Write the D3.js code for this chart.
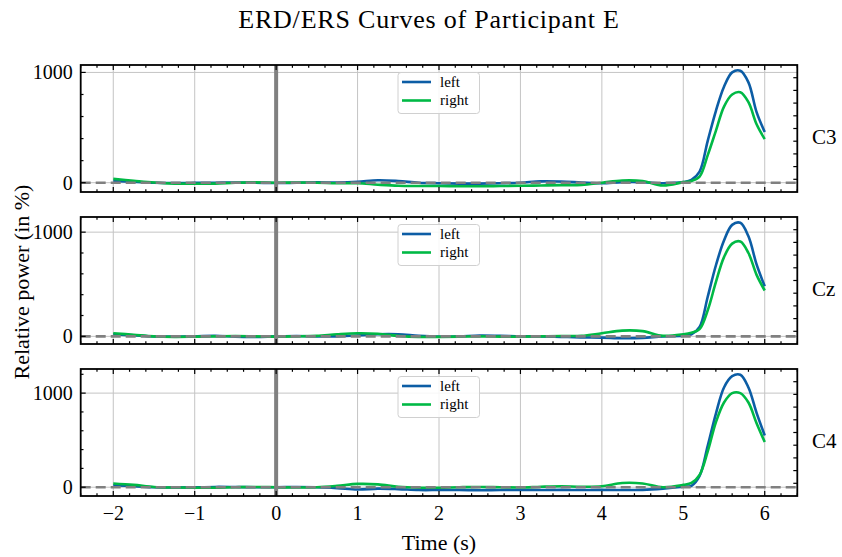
<!DOCTYPE html>
<html>
<head>
<meta charset="utf-8">
<script src="https://cdn.jsdelivr.net/npm/d3@7"></script>
<style>
  body { margin: 0; background: #fff; }
  svg text { font-family: "Liberation Serif", "Times New Roman", serif; fill: #000; }
</style>
</head>
<body>
<svg id="chart" width="842" height="557"></svg>
<script>
// time axis (s)
var times = [-2, -1.75, -1.5, -1.25, -1, -0.75, -0.5, -0.25, 0, 0.25, 0.5, 0.75,
  1, 1.25, 1.5, 1.75, 2, 2.25, 2.5, 2.75, 3, 3.25, 3.5, 3.75, 4, 4.25, 4.5, 4.75,
  5, 5.1, 5.2, 5.3, 5.4, 5.5, 5.6, 5.7, 5.8, 5.9, 6];

// relative power (%) per channel
var c3Left = [15, 8, 0, -3, -2, 0, 2, 0, -3, 0, 3, 2,
  8, 22, 15, 0, -5, -8, -8, -5, 0, 12, 10, 2, -5, 5, 5, -5,
  5, 25, 100, 380, 650, 870, 1000, 1015, 910, 640, 460];
var c3Right = [35, 18, 2, -8, -10, -8, 0, 3, 0, 2, 0, -5,
  -5, -18, -28, -30, -30, -32, -32, -30, -28, -25, -22, -20, 0, 20, 15, -25,
  5, 15, 55, 250, 470, 690, 800, 820, 730, 530, 395];

var czLeft = [20, 10, 0, -3, 0, 5, -3, -5, 0, 3, 0, 0,
  8, 20, 20, 5, -3, 0, 8, 5, 0, 0, -5, -10, -12, -18, -15, 0,
  5, 20, 90, 380, 680, 920, 1070, 1090, 960, 690, 480];
var czRight = [30, 15, 0, -5, -3, 0, 3, 0, -3, 0, 5, 20,
  30, 25, 5, -5, -5, -3, 0, -3, -3, 0, 3, 5, 30, 55, 50, 5,
  20, 35, 70, 250, 520, 760, 890, 910, 800, 590, 440];

var c4Left = [20, 12, 0, -3, -2, 3, 2, 0, 0, 2, 0, -10,
  -25, -15, -20, -30, -30, -30, -32, -30, -30, -30, -28, -30, -28, -30, -28, -15,
  5, 15, 120, 440, 780, 1060, 1180, 1195, 1060, 790, 550];
var c4Right = [40, 25, 3, -3, -5, -5, 0, 3, 0, -3, 0, 15,
  35, 30, 5, -5, -5, 0, 3, 0, -3, 5, 10, 5, 10, 45, 40, 0,
  25, 45, 130, 380, 690, 900, 1000, 1000, 900, 680, 480];

var channels = ['C3', 'Cz', 'C4'];
var leftSeries = [c3Left, czLeft, c4Left];
var rightSeries = [c3Right, czRight, c4Right];
var seriesNames = ['left', 'right'];
var seriesColors = ['#0C5DA5', '#00B945'];

var xMajor = [-2, -1, 0, 1, 2, 3, 4, 5, 6];
var yMajor = [0, 1000];

var svg = d3.select('#chart');

var left = 80.7, right = 797.3;
var panelTop = [65, 217, 369];
var panelH = 127;

var x = d3.scaleLinear().domain([-2.4, 6.4]).range([left, right]);
var xMinor = d3.range(-24, 65, 2).map(function(d) { return d / 10; })
  .filter(function(d) { return xMajor.indexOf(d) < 0; });

function fmt(v) {
  return v < 0 ? '\u2212' + Math.abs(v) : String(v);
}

channels.forEach(function(ch, i) {
  var top = panelTop[i], bottom = top + panelH;
  var all = leftSeries[i].concat(rightSeries[i]);
  var lo = d3.min(all), hi = d3.max(all), pad = (hi - lo) * 0.05;
  var y = d3.scaleLinear().domain([lo - pad, hi + pad]).range([bottom, top]);
  var yMinor = d3.range(-200, 1401, 200).filter(function(d) {
    return yMajor.indexOf(d) < 0 && d > y.domain()[0] && d < y.domain()[1];
  });
  var y2 = d3.scaleLinear().domain([0, 1]).range([bottom, top]);

  var g = svg.append('g');

  // grid
  g.selectAll('.gx').data(xMajor).enter().append('line')
    .attr('x1', function(d) { return x(d); }).attr('x2', function(d) { return x(d); })
    .attr('y1', top).attr('y2', bottom)
    .attr('stroke', '#c4c4c4').attr('stroke-width', 1);
  g.selectAll('.gy').data(yMajor).enter().append('line')
    .attr('x1', left).attr('x2', right)
    .attr('y1', function(d) { return y(d); }).attr('y2', function(d) { return y(d); })
    .attr('stroke', '#c4c4c4').attr('stroke-width', 1);

  // curves
  var line = d3.line()
    .x(function(d, k) { return x(times[k]); })
    .y(function(d) { return y(d); })
    .curve(d3.curveCatmullRom.alpha(0.5));
  [leftSeries[i], rightSeries[i]].forEach(function(s, k) {
    g.append('path').datum(s)
      .attr('d', line)
      .attr('fill', 'none')
      .attr('stroke', seriesColors[k])
      .attr('stroke-width', 2.6)
      .attr('stroke-linejoin', 'round');
  });

  // cue onset and baseline
  g.append('line')
    .attr('x1', x(0)).attr('x2', x(0)).attr('y1', top).attr('y2', bottom)
    .attr('stroke', '#808080').attr('stroke-width', 4);
  g.append('line')
    .attr('x1', left).attr('x2', right).attr('y1', y(0)).attr('y2', y(0))
    .attr('stroke', '#808080').attr('stroke-width', 2.6)
    .attr('stroke-dasharray', '10,5');

  // ticks (inward, all sides)
  function tick(x1, y1, x2, y2, w) {
    g.append('line').attr('x1', x1).attr('y1', y1).attr('x2', x2).attr('y2', y2)
      .attr('stroke', '#000').attr('stroke-width', w || 1.2);
  }
  xMajor.forEach(function(d) {
    tick(x(d), bottom, x(d), bottom - 5);
    tick(x(d), top, x(d), top + 5);
  });
  xMinor.forEach(function(d) {
    tick(x(d), bottom, x(d), bottom - 2.8);
    tick(x(d), top, x(d), top + 2.8);
  });
  yMajor.forEach(function(d) { tick(left, y(d), left + 5, y(d)); });
  yMinor.forEach(function(d) { tick(left, y(d), left + 2.8, y(d)); });
  d3.range(1, 10).forEach(function(k) {
    var v = k / 10;
    tick(right, y2(v), right - 4, y2(v));
  });

  // frame
  g.append('rect')
    .attr('x', left).attr('y', top).attr('width', right - left).attr('height', panelH)
    .attr('fill', 'none').attr('stroke', '#000').attr('stroke-width', 1.8);

  // y tick labels
  yMajor.forEach(function(d) {
    g.append('text').attr('x', left - 8).attr('y', y(d) + 7)
      .attr('text-anchor', 'end').style('font-size', '20px').text(fmt(d));
  });

  // channel name on the right
  g.append('text').attr('x', 812).attr('y', top + panelH / 2 + 15)
    .style('font-size', '21px').text(ch);

  // x tick labels on the last panel
  if (i === channels.length - 1) {
    xMajor.forEach(function(d) {
      g.append('text').attr('x', x(d)).attr('y', bottom + 24)
        .attr('text-anchor', 'middle').style('font-size', '20px').text(fmt(d));
    });
  }

  // legend
  var lg = g.append('g').attr('transform', 'translate(398,' + (top + 7.5) + ')');
  lg.append('rect').attr('width', 81.5).attr('height', 41).attr('rx', 3)
    .attr('fill', '#fff').attr('fill-opacity', 0.85)
    .attr('stroke', '#d0d0d0').attr('stroke-width', 1);
  seriesNames.forEach(function(name, k) {
    var ly = 9.5 + k * 18.5;
    lg.append('line').attr('x1', 4).attr('x2', 33).attr('y1', ly).attr('y2', ly)
      .attr('stroke', seriesColors[k]).attr('stroke-width', 2.6);
    lg.append('text').attr('x', 42).attr('y', ly + 4.5)
      .style('font-size', '15px').text(name);
  });
});

// title and axis labels
svg.append('text').attr('x', 429).attr('y', 28).attr('text-anchor', 'middle')
  .style('font-size', '26px').style('letter-spacing', '0.8px')
  .text('ERD/ERS Curves of Participant E');
svg.append('text').attr('x', 439).attr('y', 550).attr('text-anchor', 'middle')
  .style('font-size', '22px').text('Time (s)');
svg.append('text')
  .attr('transform', 'translate(29,282) rotate(-90)')
  .attr('text-anchor', 'middle').style('font-size', '22px')
  .text('Relative power (in %)');
</script>
</body>
</html>
